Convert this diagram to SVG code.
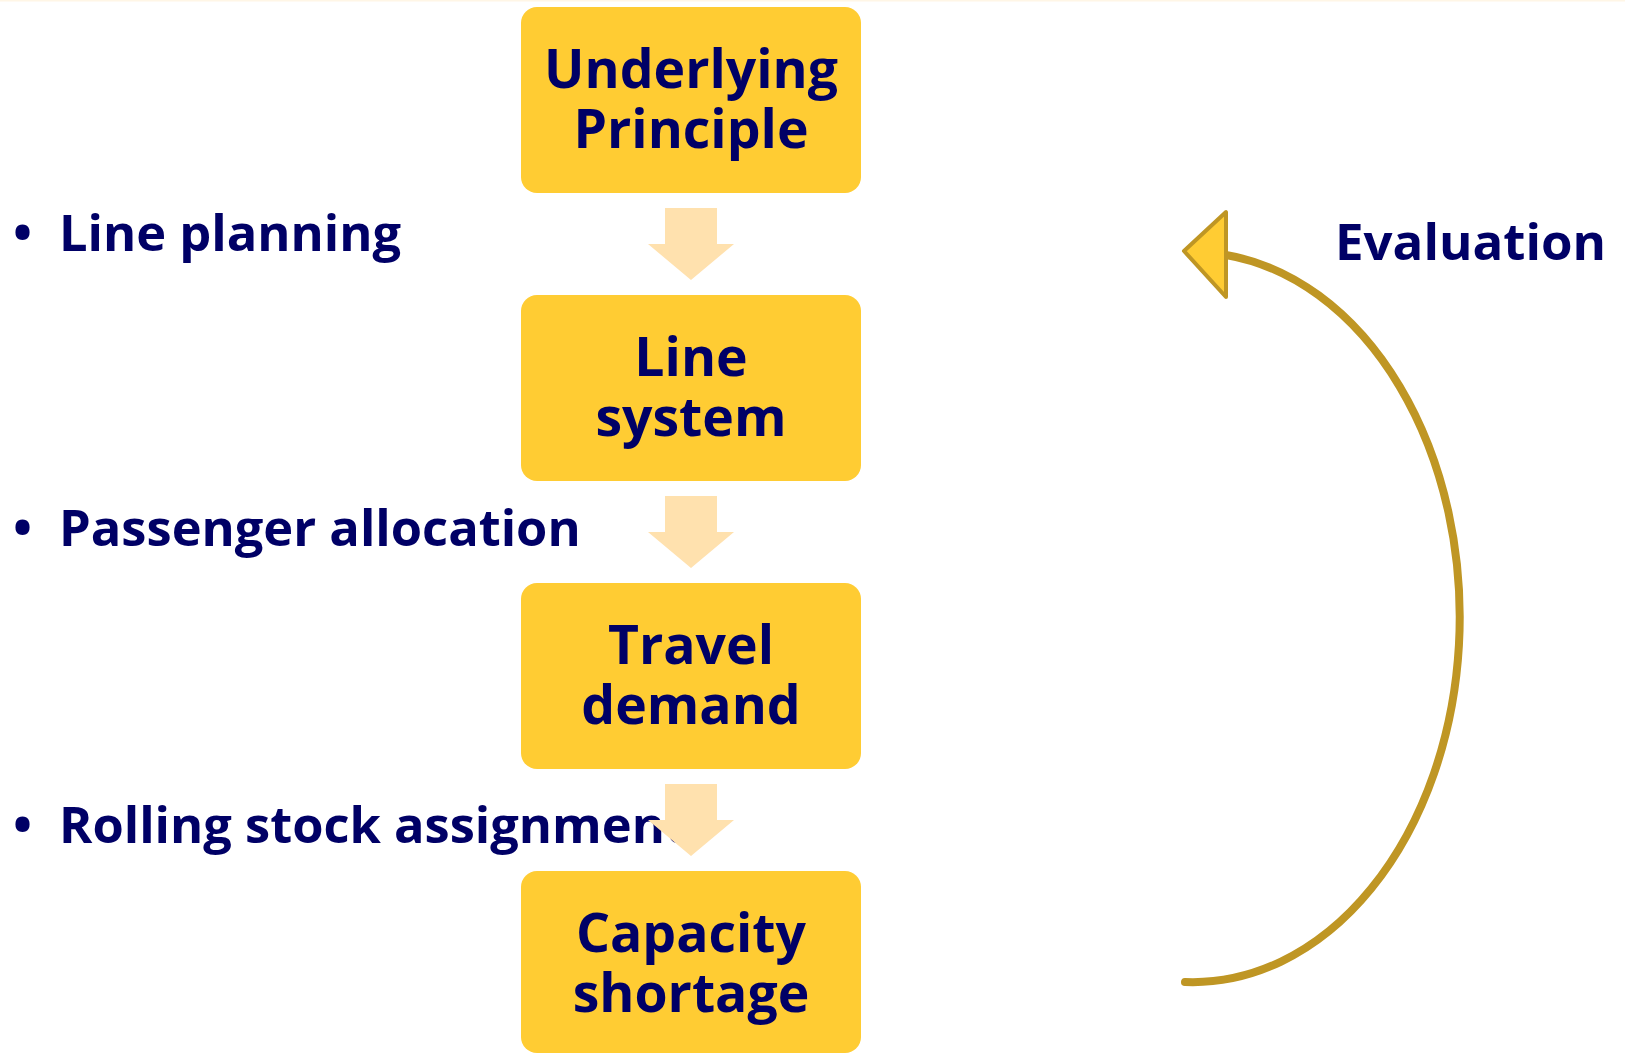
<svg xmlns="http://www.w3.org/2000/svg" width="1625" height="1054" viewBox="0 0 1625 1054">
  <style>
    .box { fill: #FFCC33; }
    .flow { fill: #FFE1AE; }
    .label { font-family: "Open Sans", "Noto Sans", "DejaVu Sans", sans-serif; font-weight: bold; fill: #000066; font-size: 53.5px; text-anchor: middle; }
    .item { font-family: "Open Sans", "Noto Sans", "DejaVu Sans", sans-serif; font-weight: bold; fill: #000066; font-size: 50.6px; }
    .loop { fill: none; stroke: #BF9624; stroke-width: 8; stroke-linecap: round; }
    .head { fill: #FFCC33; stroke: #BF9624; stroke-width: 4; stroke-linejoin: round; }
  </style>
  <defs>
    <!-- block arrow between consecutive stages -->
    <polygon id="down" points="665,0 717,0 717,36 734,36 691,72 648,36 665,36"/>
  </defs>

  <rect x="0" y="0" width="1625" height="1.5" fill="#FFF6E6"/>

  <!-- side notes (drawn first so the flow arrows sit on top) -->
  <g id="notes">
    <text class="item" y="251"><tspan x="13">•</tspan><tspan x="59">Line planning</tspan></text>
    <text class="item" y="546"><tspan x="13">•</tspan><tspan x="59">Passenger allocation</tspan></text>
    <text class="item" y="843"><tspan x="13">•</tspan><tspan x="59">Rolling stock assignment</tspan></text>
  </g>

  <g id="node-principle">
    <rect class="box" x="521" y="7" width="340" height="186" rx="16"/>
    <text class="label"><tspan x="691" y="88">Underlying</tspan><tspan x="691" y="148">Principle</tspan></text>
  </g>
  <g id="node-line-system">
    <rect class="box" x="521" y="295" width="340" height="186" rx="16"/>
    <text class="label"><tspan x="691" y="376">Line</tspan><tspan x="691" y="436">system</tspan></text>
  </g>
  <g id="node-travel-demand">
    <rect class="box" x="521" y="583" width="340" height="186" rx="16"/>
    <text class="label"><tspan x="691" y="664">Travel</tspan><tspan x="691" y="724">demand</tspan></text>
  </g>
  <g id="node-capacity">
    <rect class="box" x="521" y="871" width="340" height="182" rx="16"/>
    <text class="label"><tspan x="691" y="952">Capacity</tspan><tspan x="691" y="1012">shortage</tspan></text>
  </g>

  <g id="connectors">
    <use href="#down" class="flow" y="208"/>
    <use href="#down" class="flow" y="496"/>
    <use href="#down" class="flow" y="784"/>
    <path class="loop" d="M1185,982 A267,365 0 0 0 1226,255"/>
    <polygon class="head" points="1184,251 1226,212 1226,297"/>
  </g>

  <g id="evaluation">
    <text class="item" x="1335" y="260" style="font-size:51px">Evaluation</text>
  </g>
</svg>
